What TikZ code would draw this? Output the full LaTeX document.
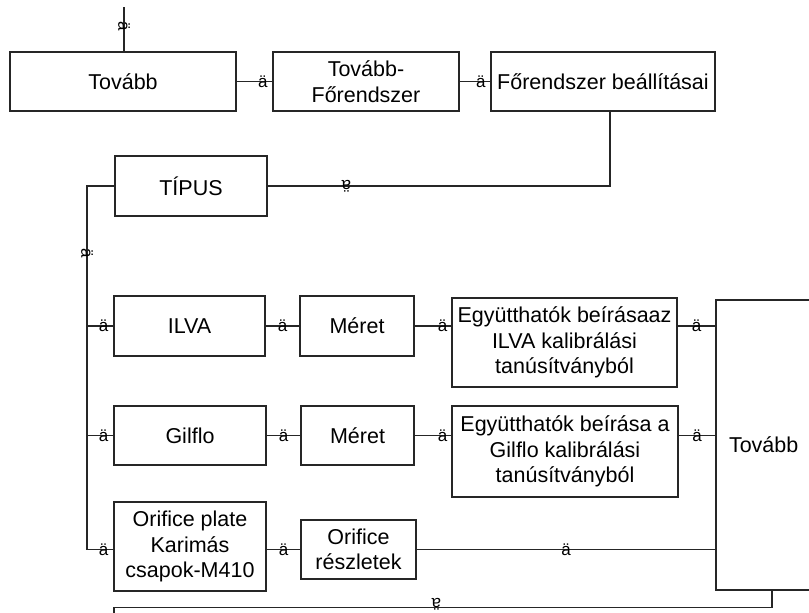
\documentclass[tikz,border=0pt]{standalone}
\usepackage{fontspec}
\setmainfont{Liberation Sans}
\usepackage{tikz}

\begin{document}
\begin{tikzpicture}[x=1pt, y=-1pt,
    box/.style={draw=black!85, line width=1.1pt, inner sep=0pt, align=center,
      font=\fontsize{21.5}{25.5}\selectfont},
    glyph/.style={font=\fontsize{17}{17}\selectfont, inner sep=0pt},
    wire/.style={line width=1.1pt, draw=black!85}]
    \fill[white] (0,0) rectangle (809,613);
    \useasboundingbox (0,0) rectangle (809,613);
    % Top row
    \node[box, minimum width=226, minimum height=59] (tovabb) at (123,81.5) {Tovább};
    \node[box, minimum width=186, minimum height=59] (tf) at (366,81.5) {Tovább-\\Főrendszer};
    \node[box, minimum width=224, minimum height=59] (fb) at (603,81.5) {Főrendszer beállításai};
    \node[box, minimum width=152, minimum height=60] (tipus) at (191,186) {TÍPUS};
    % Meter types
    \node[box, minimum width=151, minimum height=60] (ilva) at (189.5,326) {ILVA};
    \node[box, minimum width=114, minimum height=60] (meret1) at (357,326) {Méret};
    \node[box, minimum width=225, minimum height=89] (egy1) at (564.5,342.5)
      {Együtthatók beírásaaz\\ILVA kalibrálási\\tanúsítványból};
    \node[box, minimum width=152, minimum height=59] (gilflo) at (190,435.5) {Gilflo};
    \node[box, minimum width=113, minimum height=59] (meret2) at (357.5,435.5) {Méret};
    \node[box, minimum width=226, minimum height=91] (egy2) at (565,451.5)
      {Együtthatók beírása a\\Gilflo kalibrálási\\tanúsítványból};
    \node[box, minimum width=152, minimum height=89] (plate) at (190,546.5)
      {Orifice plate\\Karimás\\csapok-M410};
    \node[box, minimum width=115, minimum height=59] (reszletek) at (358.5,549.5)
      {Orifice\\részletek};
    \node[box, minimum height=290, text width=74pt, align=left, inner xsep=13pt] (tovabbr)
      at (766,445) {Tovább};
    % Top connectors
    \coordinate (entry) at (124,7);
    \draw[wire] (entry) -- node[glyph, rotate=-90, pos=0.44] {ä} (entry |- tovabb.north);
    \draw[wire] (tovabb.east) -- node[glyph, pos=0.73] {ä} (tf.west);
    \draw[wire] (tf.east) -- node[glyph, pos=0.69] {ä} (fb.west);
    \draw[wire] ([xshift=7pt]fb.south) |- node[glyph, rotate=180, pos=0.885] {ä} (tipus.east);
    % Left stem
    \coordinate (stem) at (87,186);
    \draw[wire] (tipus.west) -- (stem) -- node[glyph, rotate=-90, pos=0.18, xshift=1.5pt] {ä}
      (stem |- reszletek) -- node[glyph, pos=0.63] {ä} (plate.west |- reszletek);
    \draw[wire] (ilva.west -| stem) -- node[glyph, pos=0.63] {ä} (ilva.west);
    \draw[wire] (gilflo.west -| stem) -- node[glyph, pos=0.63] {ä} (gilflo.west);
    % Rows
    \draw[wire] (ilva.east) -- node[glyph] {ä} (meret1.west);
    \draw[wire] (meret1.east) -- node[glyph, pos=0.76] {ä} (meret1.east -| egy1.west);
    \draw[wire] (meret1.east -| egy1.east) -- node[glyph] {ä} (meret1.east -| tovabbr.west);
    \draw[wire] (gilflo.east) -- node[glyph] {ä} (meret2.west);
    \draw[wire] (meret2.east) -- node[glyph, pos=0.76] {ä} (meret2.east -| egy2.west);
    \draw[wire] (meret2.east -| egy2.east) -- node[glyph] {ä} (meret2.east -| tovabbr.west);
    \draw[wire] (plate.east |- reszletek) -- node[glyph] {ä} (reszletek.west);
    \draw[wire] (reszletek.east) -- node[glyph] {ä} (reszletek.east -| tovabbr.west);
    % Loop back
    \coordinate (exit) at (114,625);
    \draw[wire] ([xshift=6pt]tovabbr.south) -- ++(0,17) -| node[glyph, rotate=180, pos=0.255, yshift=-3pt] {ä} (exit);
\end{tikzpicture}
\end{document}
